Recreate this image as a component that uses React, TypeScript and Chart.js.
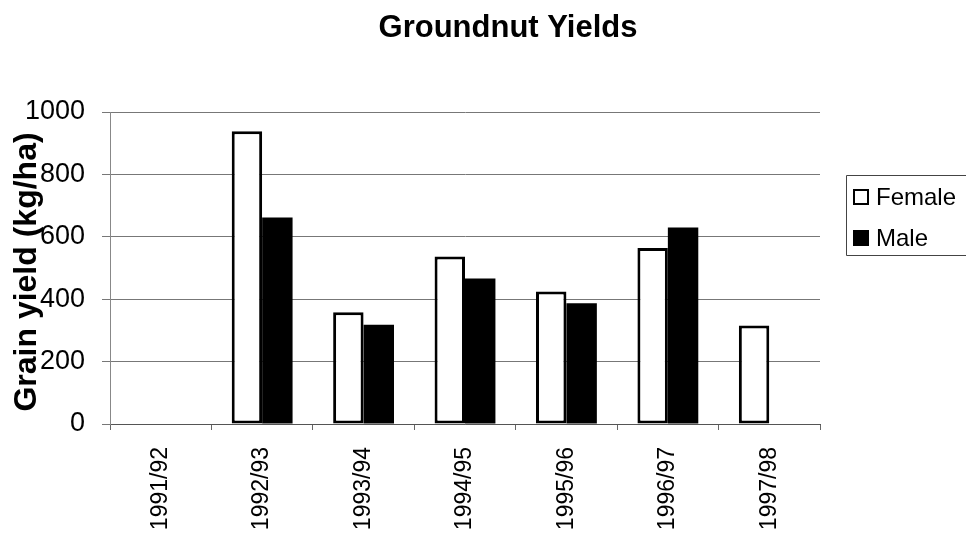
import React, { useEffect, useRef } from "react";
import { Chart, registerables } from "chart.js";

Chart.register(...registerables);

// Crop seasons on the category axis
const seasons = ["1991/92", "1992/93", "1993/94", "1994/95", "1995/96", "1996/97", "1997/98"];

// Groundnut grain yield (kg/ha) by farmer gender
const femaleYield = [null, 938, 358, 537, 425, 564, 316];
const maleYield = [null, 662, 318, 466, 387, 630, null];

// Value axis ticks
const yMin = 0;
const yMax = 1000;
const yStep = 200;

const chartTitle = "Groundnut Yields";
const yAxisTitle = "Grain yield (kg/ha)";
const seriesNames = ["Female", "Male"];

const FONT = "'Liberation Sans', Arial, Helvetica, sans-serif";

// Draws the heading, the rotated value-axis caption and the boxed key
const decorations = {
  id: "decorations",
  afterDraw(chart: any) {
    const ctx = chart.ctx as CanvasRenderingContext2D;
    const area = chart.chartArea;
    ctx.save();

    // heading
    ctx.fillStyle = "#000";
    ctx.font = `bold 31px ${FONT}`;
    ctx.textAlign = "center";
    ctx.textBaseline = "alphabetic";
    ctx.fillText(chartTitle, 508, 37);

    // value-axis caption
    ctx.save();
    ctx.translate(36, (area.top + area.bottom) / 2 + 4);
    ctx.rotate(-Math.PI / 2);
    ctx.font = `bold 32px ${FONT}`;
    ctx.textAlign = "center";
    ctx.textBaseline = "alphabetic";
    ctx.fillText(yAxisTitle, 0, 0);
    ctx.restore();

    // key frame: open on the right, where it runs off the canvas
    const kx = area.right + 26;
    const ky = 175;
    const kb = ky + 80;
    const kr = chart.width + 20;
    ctx.strokeStyle = "#444";
    ctx.lineWidth = 1;
    ctx.beginPath();
    ctx.moveTo(kr, ky + 0.5);
    ctx.lineTo(kx + 0.5, ky + 0.5);
    ctx.lineTo(kx + 0.5, kb + 0.5);
    ctx.lineTo(kr, kb + 0.5);
    ctx.stroke();

    const rows = [197, 238];
    ctx.font = `24px ${FONT}`;
    ctx.textAlign = "left";
    ctx.textBaseline = "middle";
    rows.forEach((cy, i) => {
      const sx = kx + 7;
      if (i === 0) {
        ctx.fillStyle = "#fff";
        ctx.fillRect(sx, cy - 8, 16, 16);
        ctx.strokeStyle = "#000";
        ctx.lineWidth = 2;
        ctx.strokeRect(sx + 1, cy - 7, 14, 14);
      } else {
        ctx.fillStyle = "#000";
        ctx.fillRect(sx, cy - 8, 16, 16);
      }
      ctx.fillStyle = "#000";
      ctx.fillText(seriesNames[i], sx + 23, cy + 1);
    });

    ctx.restore();
  },
};

export default function App() {
  const canvasRef = useRef<HTMLCanvasElement | null>(null);

  useEffect(() => {
    if (!canvasRef.current) return;
    const chart = new Chart(canvasRef.current, {
      type: "bar",
      data: {
        labels: seasons,
        datasets: [
          {
            label: seriesNames[0],
            data: femaleYield,
            backgroundColor: "#fff",
            borderColor: "#000",
            borderWidth: 3,
            borderSkipped: false,
          },
          {
            label: seriesNames[1],
            data: maleYield,
            backgroundColor: "#000",
            borderColor: "#000",
            borderWidth: 0,
          },
        ],
      },
      options: {
        animation: false,
        responsive: true,
        maintainAspectRatio: false,
        layout: { padding: { top: 112, right: 146, left: 0, bottom: 0 } },
        datasets: { bar: { categoryPercentage: 0.6, barPercentage: 1.0 } },
        plugins: {
          legend: { display: false },
          title: { display: false },
          tooltip: { enabled: false },
        },
        scales: {
          x: {
            afterFit(scale: any) {
              scale.height = 109;
            },
            grid: {
              drawOnChartArea: false,
              drawTicks: true,
              tickLength: 6,
              color: "#666",
              offset: true,
            },
            border: { display: true, color: "#555", width: 1 },
            ticks: {
              maxRotation: 90,
              minRotation: 90,
              padding: 17,
              color: "#000",
              font: { family: FONT, size: 23 },
              autoSkip: false,
            },
          },
          y: {
            min: yMin,
            max: yMax,
            afterFit(scale: any) {
              scale.width = 110;
            },
            grid: {
              color: "#777",
              lineWidth: 1,
              tickLength: 8,
            },
            border: { display: true, color: "#888", width: 1 },
            ticks: {
              stepSize: yStep,
              padding: 17,
              color: "#000",
              font: { family: FONT, size: 27 },
              callback: (value: any) => String(value),
            },
          },
        },
      },
      plugins: [decorations],
    });
    return () => chart.destroy();
  }, []);

  return (
    <div style={{ position: "absolute", left: 0, top: 0, width: 966, height: 533 }}>
      <canvas ref={canvasRef} />
    </div>
  );
}
